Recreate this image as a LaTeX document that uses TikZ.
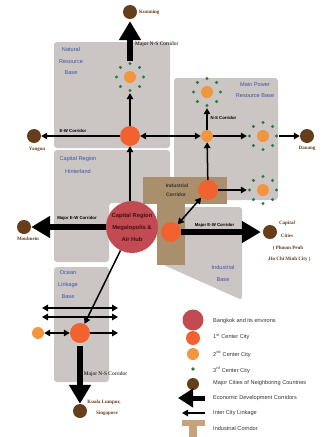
\documentclass[tikz,border=0pt]{standalone}
\usepackage{fontspec}
\setmainfont{Liberation Serif}
\setsansfont{Liberation Sans}
\usetikzlibrary{arrows.meta}
\definecolor{cgray}{RGB}{203,198,195}
\definecolor{cind}{RGB}{170,143,108}
\definecolor{cindleg}{RGB}{198,163,122}
\definecolor{cbkk}{RGB}{194,74,82}
\definecolor{cfirst}{RGB}{242,98,48}
\definecolor{csecond}{RGB}{241,150,62}
\definecolor{cgreen}{RGB}{30,128,60}
\definecolor{cbrown}{RGB}{102,62,28}
\definecolor{cblue}{RGB}{62,82,170}
\definecolor{ctext}{RGB}{50,50,50}
\definecolor{cbkktext}{RGB}{60,20,20}
\tikzset{
  region/.style={fill=cgray, rounded corners=3pt},
  indbar/.style={fill=cind},
  bkk/.style={circle, fill=cbkk, inner sep=0pt, minimum size=52pt},
  cityA/.style={circle, fill=cfirst, inner sep=0pt, minimum size=20pt},
  cityB/.style={circle, fill=csecond, inner sep=0pt, minimum size=12pt},
  nbr/.style={circle, fill=cbrown, inner sep=0pt, minimum size=14pt},
  ringzone/.style={circle, inner sep=0pt, minimum size=32pt},
  link/.style={line width=1.5pt, -{Triangle[length=6pt,width=6.5pt]}},
  twoway/.style={line width=1.5pt, {Triangle[length=6pt,width=6.5pt]}-{Triangle[length=6pt,width=6.5pt]}},
  major/.style={line width=6pt, -{Triangle[length=19pt,width=21pt]}},
  bluelab/.style={text=cblue, font=\sffamily\fontsize{5.6}{6}\selectfont, inner sep=0pt},
  citylab/.style={text=cbrown, font=\fontsize{5}{6}\selectfont\bfseries, inner sep=0pt},
  corrlab/.style={text=black, font=\sffamily\bfseries\fontsize{4.3}{5}\selectfont, inner sep=0pt},
  nslab/.style={text=black, font=\fontsize{5.4}{6}\selectfont, inner sep=0pt},
  leglab/.style={text=ctext, font=\sffamily\fontsize{5.6}{6}\selectfont, anchor=west, inner sep=0pt},
}
\newcommand{\greenring}[1]{%
  \foreach \a in {0,45,...,315} \fill[cgreen] ([shift={(\a:13.5pt)}]#1.center) circle (1.7pt);}
\begin{document}
\begin{tikzpicture}[x=1pt,y=-1pt]
\useasboundingbox (0,0) rectangle (321,437);

% ---------- regions ----------
\fill[region] (54,42) rectangle (170,148);
\fill[region] (174,78) rectangle (278,200);
\fill[region] (54,150) -- (170,150) -- (170,203) -- (109,203) -- (109,262) -- (54,262) -- cycle;
\fill[region] (157,207) -- (242,207) -- (242,300) -- (157,262) -- cycle;
\fill[region] (54,267) rectangle (109,382);
% industrial corridor
\fill[indbar] (143,177) rectangle (227,204);
\fill[indbar] (157,204) rectangle (185,265);

% ---------- region labels ----------
\node[bluelab] at (71,49) {Natural};
\node[bluelab] at (71,62) {Resource};
\node[bluelab] at (71,73) {Base};
\node[bluelab] at (255,84) {Main Power};
\node[bluelab] at (255,96) {Resource Base};
\node[bluelab] at (78,159) {Capital Region};
\node[bluelab] at (78,171) {Hinterland};
\node[bluelab] at (68,273) {Ocean};
\node[bluelab] at (68,285) {Linkage};
\node[bluelab] at (68,297) {Base};
\node[bluelab] at (223,267) {Industrial};
\node[bluelab] at (223,280) {Base};
\node[text=ctext, font=\sffamily\bfseries\fontsize{5}{6}\selectfont, inner sep=0pt] at (177,186) {Industrial};
\node[text=ctext, font=\sffamily\bfseries\fontsize{5}{6}\selectfont, inner sep=0pt] at (176,195) {Corridor};

% ---------- neighbouring cities ----------
\node[nbr] (kunming) at (130,12) {};
\node[nbr] (yangon) at (34,136) {};
\node[nbr] (danang) at (307,136) {};
\node[nbr] (moulmein) at (24,227) {};
\node[nbr] (capcities) at (270,232) {};
\node[nbr] (kl) at (80,411) {};
\node[citylab, anchor=west] at (139,12) {Kunming};
\node[citylab] at (37,149) {Yangon};
\node[citylab] at (307,148) {Danang};
\node[citylab] at (28,239) {Moulmein};
\node[citylab] at (287,223) {Capital};
\node[citylab] at (287,236) {Cities};
\node[citylab] at (288,248) {( Phnom Penh};
\node[citylab] at (289,259) {,Ho Chi Minh City )};
\node[citylab] at (104,402) {Kuala Lumpur,};
\node[citylab] at (107,413) {Singapore};

% ---------- centres ----------
\node[cityB] (nr) at (130,77) {};
\node[ringzone] (nrz) at (130,77) {};
\greenring{nr}
\node[cityA] (ew) at (130,136) {};
\node[cityB] (mp) at (207,136) {};
\node[cityB] (mpt) at (207,92) {};
\node[ringzone] (mptz) at (207,92) {};
\greenring{mpt}
\node[cityB] (re) at (263,136) {};
\node[ringzone] (rez) at (263,136) {};
\greenring{re}
\node[cityA] (ic) at (208,190) {};
\node[cityB] (ri) at (263,190) {};
\node[ringzone] (riz) at (263,190) {};
\greenring{ri}
\node[cityA] (il) at (171,232) {};
\node[bkk, align=center, text=cbkktext, font=\sffamily\bfseries\fontsize{5.8}{12}\selectfont] (bkk) at (132,227) {Capital Region\\Megalopolis \&\\Air Hub};
\node[cityA] (oc) at (80,333) {};
\node[cityB] (ol) at (38,333) {};

% ---------- corridors ----------
\draw[major, shorten >=2pt] (nrz) -- (kunming);
\draw[major] (bkk) -- (moulmein);
\draw[major, shorten >=2pt] (il) -- (capcities);
\draw[major, shorten <=3pt] (oc) -- (kl);
\node[nslab, anchor=west] at (135,44) {Major N-S Corridor};
\node[nslab] at (105.5,374) {Major N-S Corridor};
\node[corrlab] at (77,218) {Major E-W Corridor};
\node[corrlab] at (214.5,225) {Major E-W Corridor};
\node[corrlab] at (73,131) {E-W Corridor};
\node[corrlab] at (223.5,118) {N-S Corridor};

% ---------- links ----------
\draw[link] (ew) -- (nrz);
\draw[link] (ew) -- (yangon);
\draw[twoway] (ew) -- (mp);
\draw[link] (mp) -- (mptz);
\draw[link] (mp) -- (rez);
\draw[link] (rez) -- (danang);
\draw[link] (ic) -- (mp);
\draw[link] (ic) -- (riz);
\draw[twoway] (ic) -- (il);
\draw[link] (ew |- bkk.north) -- (ew);
\draw[link] (bkk) -- (oc);
\coordinate (oa1) at (42,308); \coordinate (ob1) at (118,308);
\coordinate (oa2) at (42,317); \coordinate (ob2) at (118,317);
\coordinate (oe) at (118,333);
\draw[twoway] (oa1) -- (ob1);
\draw[twoway] (oa2) -- (ob2);
\draw[twoway] (ol) -- (oc);
\draw[link] (oc) -- (oe);

% ---------- legend ----------
\node[circle, fill=cbkk, inner sep=0pt, minimum size=21pt] (l1) at (193,320) {};
\node[circle, fill=cfirst, inner sep=0pt, minimum size=14pt] (l2) at (193,338) {};
\node[circle, fill=csecond, inner sep=0pt, minimum size=12pt] (l3) at (193,354) {};
\node[circle, fill=cgreen, inner sep=0pt, minimum size=3.6pt] (l4) at (193,369) {};
\node[circle, fill=cbrown, inner sep=0pt, minimum size=12pt] (l5) at (193,384) {};
\coordinate (l6a) at (205,398); \coordinate (l6b) at (178,398);
\draw[line width=5pt, -{Triangle[length=15pt,width=18pt]}] (l6a) -- (l6b);
\coordinate (l7a) at (205,413); \coordinate (l7b) at (182,413);
\draw[link] (l7a) -- (l7b);
\fill[cindleg] (182,420) rectangle (205,426);
\fill[cindleg] (189,426) rectangle (197,437);
\node[leglab] at (213,321) {Bangkok and its environs};
\node[leglab] at (213,337) {1\textsuperscript{st} Center City};
\node[leglab] at (213,354) {2\textsuperscript{nd} Center City};
\node[leglab] at (213,370) {3\textsuperscript{rd} Center City};
\node[leglab] at (213,383) {Major Cities of Neighboring Countries};
\node[leglab] at (213,398) {Economic Development Corridors};
\node[leglab] at (213,413) {Inter City Linkage};
\node[leglab] at (213,428) {Industrial Corridor};
\end{tikzpicture}
\end{document}
